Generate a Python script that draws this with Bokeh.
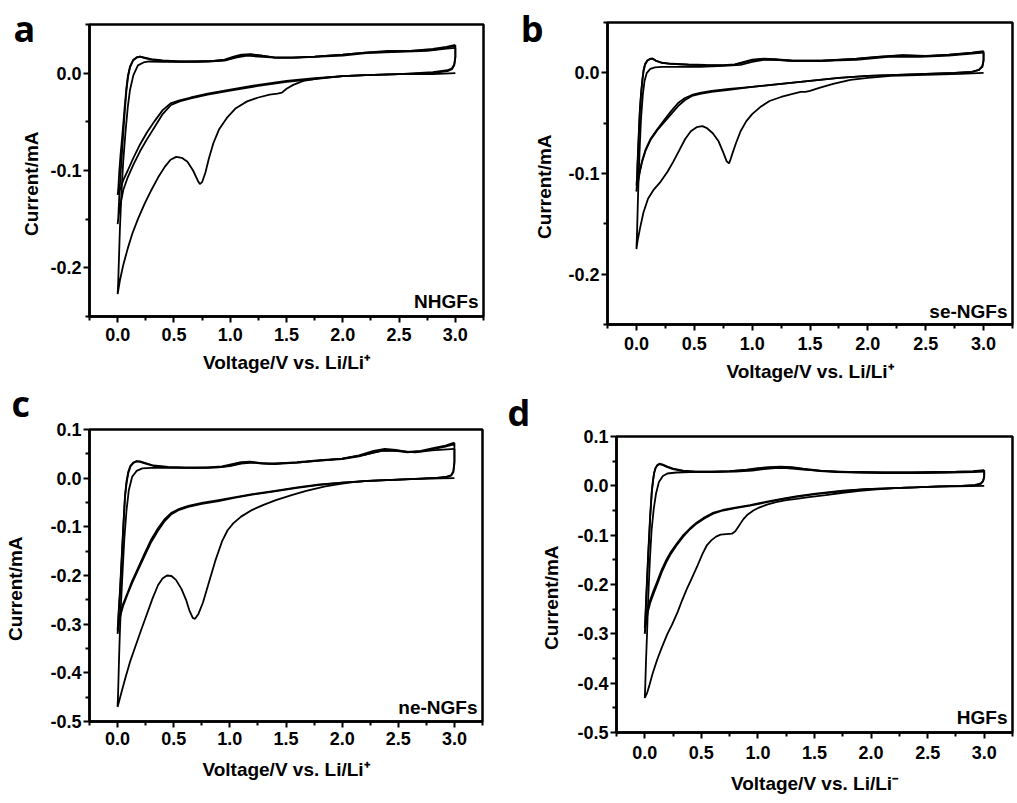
from bokeh.plotting import figure
from bokeh.layouts import column, row
from bokeh.models import Range1d, FixedTicker, NumeralTickFormatter, Label
from bokeh.embed import file_html
from bokeh.resources import INLINE

# ---------------- data (Voltage / V, Current / mA) ----------------
X_MAJOR = [0.0, 0.5, 1.0, 1.5, 2.0, 2.5, 3.0]
X_MINOR = [-0.25, 0.25, 0.75, 1.25, 1.75, 2.25, 2.75, 3.25]

# Panel a : NHGFs
A1_CV = [3.00, 2.80, 2.50, 2.20, 2.00, 1.80, 1.65, 1.56, 1.50, 1.46, 1.42, 1.35, 1.25, 1.15, 1.05, 0.97, 0.90, 0.85, 0.81, 0.78, 0.75, 0.73, 0.71, 0.67, 0.62, 0.57, 0.52, 0.47, 0.42, 0.36, 0.30, 0.24, 0.18, 0.13, 0.09, 0.05, 0.02, 0.00]
A1_CI = [0.000, -0.001, -0.001, -0.002, -0.003, -0.005, -0.008, -0.012, -0.016, -0.020, -0.021, -0.022, -0.025, -0.029, -0.036, -0.046, -0.058, -0.072, -0.088, -0.102, -0.112, -0.114, -0.110, -0.100, -0.091, -0.087, -0.086, -0.089, -0.096, -0.107, -0.120, -0.134, -0.150, -0.165, -0.180, -0.197, -0.213, -0.227]
A1_AV = [0.005, 0.02, 0.035, 0.05, 0.07, 0.09, 0.11, 0.14, 0.18, 0.23, 0.28, 0.40, 0.60, 0.80, 0.95, 1.05, 1.15, 1.25, 1.40, 1.60, 1.80, 2.00, 2.25, 2.50, 2.75, 2.90, 3.00]
A1_AI = [-0.215, -0.160, -0.120, -0.090, -0.060, -0.035, -0.017, -0.002, 0.008, 0.011, 0.012, 0.0115, 0.0115, 0.012, 0.013, 0.016, 0.018, 0.017, 0.016, 0.016, 0.017, 0.018, 0.021, 0.022, 0.023, 0.025, 0.026]
A2_CV = [3.00, 3.00, 2.99, 2.97, 2.93, 2.80, 2.50, 2.20, 2.00, 1.75, 1.50, 1.25, 1.00, 0.80, 0.65, 0.55, 0.47, 0.40, 0.33, 0.26, 0.20, 0.14, 0.09, 0.05, 0.03, 0.01, 0.00]
A2_CI = [0.026, 0.016, 0.008, 0.004, 0.002, 0.000, -0.001, -0.002, -0.003, -0.006, -0.009, -0.013, -0.018, -0.022, -0.026, -0.029, -0.033, -0.042, -0.055, -0.068, -0.080, -0.094, -0.107, -0.120, -0.132, -0.145, -0.155]
A3_CI = [0.029, 0.017, 0.009, 0.005, 0.003, 0.001, -0.001, -0.002, -0.003, -0.005, -0.008, -0.012, -0.017, -0.021, -0.025, -0.028, -0.031, -0.038, -0.049, -0.061, -0.073, -0.087, -0.100, -0.110, -0.117, -0.122, -0.125]
A2_AV = [0.005, 0.015, 0.025, 0.035, 0.048, 0.063, 0.078, 0.092, 0.11, 0.137, 0.17, 0.20, 0.24, 0.30, 0.40, 0.55, 0.70, 0.85, 0.95, 1.03, 1.10, 1.18, 1.28, 1.40, 1.55, 1.75, 2.00, 2.20, 2.40, 2.60, 2.80, 2.92, 3.00]
A2_AI = [-0.150, -0.125, -0.105, -0.088, -0.065, -0.040, -0.018, -0.004, 0.006, 0.013, 0.016, 0.017, 0.016, 0.0145, 0.013, 0.012, 0.012, 0.0125, 0.014, 0.017, 0.019, 0.0195, 0.018, 0.016, 0.016, 0.017, 0.019, 0.021, 0.023, 0.023, 0.025, 0.027, 0.029]
A3_AI = [-0.120, -0.100, -0.085, -0.072, -0.055, -0.034, -0.015, -0.002, 0.007, 0.0135, 0.0165, 0.017, 0.0155, 0.014, 0.0125, 0.012, 0.012, 0.0125, 0.0135, 0.016, 0.018, 0.019, 0.018, 0.016, 0.016, 0.017, 0.019, 0.021, 0.022, 0.023, 0.024, 0.026, 0.028]

# Panel b : se-NGFs
B1_CV = [3.00, 2.80, 2.50, 2.20, 2.00, 1.85, 1.70, 1.58, 1.50, 1.46, 1.42, 1.35, 1.25, 1.15, 1.07, 1.00, 0.95, 0.90, 0.86, 0.83, 0.81, 0.80, 0.78, 0.75, 0.71, 0.66, 0.61, 0.57, 0.52, 0.47, 0.42, 0.37, 0.32, 0.27, 0.21, 0.15, 0.10, 0.06, 0.03, 0.01, 0.00]
B1_CI = [0.000, -0.001, -0.002, -0.003, -0.005, -0.007, -0.011, -0.015, -0.018, -0.019, -0.019, -0.021, -0.024, -0.028, -0.034, -0.041, -0.048, -0.058, -0.070, -0.080, -0.087, -0.090, -0.088, -0.079, -0.068, -0.060, -0.055, -0.053, -0.054, -0.058, -0.066, -0.077, -0.088, -0.098, -0.108, -0.116, -0.125, -0.139, -0.155, -0.167, -0.175]
B1_AV = [0.005, 0.012, 0.02, 0.03, 0.04, 0.055, 0.07, 0.09, 0.12, 0.16, 0.22, 0.35, 0.55, 0.75, 0.90, 1.00, 1.10, 1.20, 1.35, 1.60, 1.90, 2.20, 2.45, 2.70, 2.90, 3.00]
B1_AI = [-0.160, -0.130, -0.100, -0.070, -0.045, -0.022, -0.008, 0.000, 0.004, 0.0055, 0.006, 0.006, 0.006, 0.007, 0.008, 0.011, 0.013, 0.013, 0.012, 0.012, 0.013, 0.016, 0.016, 0.017, 0.019, 0.020]
B2_CV = [3.00, 3.00, 2.99, 2.96, 2.90, 2.75, 2.50, 2.25, 2.00, 1.75, 1.50, 1.25, 1.00, 0.80, 0.65, 0.55, 0.48, 0.42, 0.36, 0.30, 0.24, 0.18, 0.12, 0.08, 0.05, 0.03, 0.015, 0.00]
B2_CI = [0.020, 0.012, 0.006, 0.003, 0.001, 0.000, -0.001, -0.002, -0.003, -0.005, -0.008, -0.011, -0.014, -0.017, -0.019, -0.021, -0.023, -0.027, -0.033, -0.041, -0.049, -0.057, -0.067, -0.077, -0.088, -0.098, -0.108, -0.118]
B3_CI = [0.0215, 0.013, 0.007, 0.003, 0.001, 0.000, -0.001, -0.002, -0.003, -0.005, -0.008, -0.011, -0.014, -0.016, -0.018, -0.020, -0.022, -0.025, -0.030, -0.038, -0.047, -0.056, -0.066, -0.076, -0.087, -0.097, -0.105, -0.112]
B2_AV = [0.005, 0.009, 0.016, 0.023, 0.030, 0.040, 0.051, 0.062, 0.075, 0.095, 0.12, 0.14, 0.17, 0.22, 0.30, 0.45, 0.60, 0.75, 0.85, 0.93, 1.00, 1.10, 1.20, 1.35, 1.60, 1.90, 2.10, 2.30, 2.50, 2.70, 2.90, 3.00]
B2_AI = [-0.110, -0.095, -0.075, -0.055, -0.038, -0.022, -0.008, 0.002, 0.008, 0.012, 0.014, 0.0142, 0.012, 0.010, 0.009, 0.0083, 0.0078, 0.0076, 0.0085, 0.011, 0.013, 0.014, 0.0135, 0.012, 0.012, 0.014, 0.016, 0.0175, 0.0168, 0.018, 0.020, 0.0215]
B3_AI = [-0.105, -0.090, -0.072, -0.053, -0.036, -0.020, -0.007, 0.003, 0.009, 0.0125, 0.0138, 0.014, 0.0118, 0.0098, 0.0088, 0.008, 0.0076, 0.0075, 0.0082, 0.0105, 0.0125, 0.0135, 0.013, 0.0118, 0.0118, 0.0138, 0.0158, 0.0172, 0.0165, 0.0178, 0.0198, 0.021]

# Panel c : ne-NGFs
C1_CV = [3.00, 2.75, 2.50, 2.25, 2.10, 2.00, 1.85, 1.68, 1.55, 1.41, 1.30, 1.20, 1.10, 1.03, 0.98, 0.93, 0.87, 0.81, 0.76, 0.72, 0.69, 0.67, 0.64, 0.61, 0.57, 0.52, 0.48, 0.44, 0.40, 0.36, 0.31, 0.26, 0.21, 0.16, 0.11, 0.07, 0.035, 0.00]
C1_CI = [0.000, -0.001, -0.003, -0.005, -0.008, -0.011, -0.017, -0.026, -0.035, -0.045, -0.055, -0.065, -0.079, -0.093, -0.107, -0.130, -0.170, -0.217, -0.256, -0.279, -0.289, -0.287, -0.272, -0.250, -0.228, -0.209, -0.201, -0.200, -0.206, -0.220, -0.248, -0.280, -0.312, -0.345, -0.378, -0.410, -0.440, -0.470]
C1_AV = [0.005, 0.012, 0.02, 0.03, 0.045, 0.06, 0.08, 0.10, 0.13, 0.17, 0.22, 0.30, 0.50, 0.70, 0.90, 1.00, 1.10, 1.20, 1.35, 1.60, 1.80, 2.00, 2.20, 2.35, 2.50, 2.65, 2.80, 3.00]
C1_AI = [-0.440, -0.380, -0.320, -0.260, -0.190, -0.125, -0.065, -0.025, 0.003, 0.015, 0.020, 0.021, 0.021, 0.021, 0.022, 0.025, 0.030, 0.032, 0.030, 0.032, 0.036, 0.040, 0.048, 0.056, 0.056, 0.053, 0.057, 0.060]
C2_CV = [3.00, 3.00, 2.99, 2.97, 2.93, 2.85, 2.60, 2.40, 2.20, 2.00, 1.80, 1.60, 1.40, 1.20, 1.05, 0.90, 0.75, 0.63, 0.55, 0.48, 0.42, 0.36, 0.30, 0.24, 0.18, 0.13, 0.09, 0.05, 0.03, 0.015, 0.00]
C2_CI = [0.060, 0.030, 0.012, 0.005, 0.002, 0.000, -0.002, -0.004, -0.006, -0.009, -0.014, -0.020, -0.027, -0.034, -0.040, -0.047, -0.053, -0.059, -0.065, -0.074, -0.088, -0.108, -0.131, -0.160, -0.190, -0.215, -0.238, -0.262, -0.278, -0.295, -0.320]
C3_CI = [0.073, 0.035, 0.014, 0.006, 0.003, 0.001, -0.002, -0.004, -0.006, -0.009, -0.013, -0.019, -0.026, -0.033, -0.039, -0.045, -0.051, -0.057, -0.063, -0.071, -0.084, -0.103, -0.126, -0.155, -0.186, -0.211, -0.235, -0.258, -0.274, -0.290, -0.312]
C2_AV = [0.005, 0.012, 0.021, 0.036, 0.051, 0.066, 0.080, 0.095, 0.115, 0.14, 0.17, 0.20, 0.25, 0.32, 0.45, 0.60, 0.80, 0.93, 1.02, 1.10, 1.18, 1.28, 1.40, 1.60, 1.80, 2.00, 2.15, 2.28, 2.38, 2.48, 2.58, 2.70, 2.82, 2.92, 3.00]
C2_AI = [-0.300, -0.270, -0.240, -0.172, -0.103, -0.040, -0.010, 0.010, 0.024, 0.031, 0.035, 0.0345, 0.031, 0.026, 0.023, 0.022, 0.022, 0.024, 0.029, 0.033, 0.034, 0.031, 0.030, 0.033, 0.037, 0.040, 0.047, 0.056, 0.060, 0.058, 0.054, 0.056, 0.062, 0.067, 0.073]
C3_AI = [-0.295, -0.265, -0.232, -0.165, -0.098, -0.036, -0.006, 0.013, 0.026, 0.032, 0.0345, 0.0335, 0.030, 0.025, 0.022, 0.021, 0.021, 0.023, 0.027, 0.031, 0.033, 0.030, 0.029, 0.032, 0.036, 0.039, 0.045, 0.053, 0.057, 0.056, 0.053, 0.055, 0.060, 0.065, 0.070]

# Panel d : HGFs
D1_CV = [3.00, 2.75, 2.50, 2.25, 2.05, 1.90, 1.75, 1.60, 1.45, 1.34, 1.25, 1.16, 1.08, 1.01, 0.96, 0.91, 0.87, 0.83, 0.80, 0.77, 0.72, 0.67, 0.63, 0.59, 0.55, 0.51, 0.46, 0.41, 0.37, 0.33, 0.29, 0.24, 0.20, 0.15, 0.11, 0.07, 0.04, 0.02, 0.00]
D1_CI = [0.000, -0.001, -0.002, -0.004, -0.007, -0.010, -0.014, -0.019, -0.023, -0.0265, -0.029, -0.033, -0.038, -0.044, -0.050, -0.058, -0.068, -0.082, -0.092, -0.097, -0.098, -0.099, -0.103, -0.110, -0.120, -0.138, -0.165, -0.190, -0.210, -0.232, -0.256, -0.282, -0.300, -0.328, -0.352, -0.380, -0.405, -0.420, -0.430]
D1_AV = [0.005, 0.01, 0.02, 0.03, 0.045, 0.06, 0.08, 0.10, 0.125, 0.16, 0.20, 0.28, 0.40, 0.60, 0.80, 0.95, 1.05, 1.15, 1.25, 1.40, 1.60, 1.80, 2.10, 2.40, 2.70, 2.90, 3.00]
D1_AI = [-0.400, -0.360, -0.300, -0.230, -0.150, -0.090, -0.045, -0.015, 0.008, 0.020, 0.025, 0.027, 0.028, 0.028, 0.029, 0.031, 0.034, 0.036, 0.036, 0.033, 0.030, 0.028, 0.026, 0.026, 0.027, 0.028, 0.029]
D2_CV = [3.00, 3.00, 2.99, 2.97, 2.92, 2.80, 2.60, 2.39, 2.20, 1.95, 1.75, 1.51, 1.35, 1.22, 1.08, 0.93, 0.80, 0.69, 0.60, 0.52, 0.45, 0.40, 0.34, 0.28, 0.23, 0.19, 0.15, 0.106, 0.075, 0.047, 0.028, 0.015, 0.005, 0.00]
D2_CI = [0.029, 0.018, 0.009, 0.004, 0.001, 0.000, -0.001, -0.003, -0.0045, -0.0065, -0.011, -0.0167, -0.022, -0.027, -0.033, -0.040, -0.045, -0.050, -0.057, -0.067, -0.078, -0.088, -0.103, -0.121, -0.138, -0.155, -0.175, -0.202, -0.220, -0.238, -0.255, -0.272, -0.290, -0.300]
D3_CI = [0.032, 0.020, 0.010, 0.005, 0.002, 0.000, -0.001, -0.003, -0.0045, -0.0065, -0.010, -0.016, -0.021, -0.026, -0.032, -0.039, -0.044, -0.049, -0.055, -0.065, -0.076, -0.086, -0.100, -0.118, -0.134, -0.150, -0.170, -0.196, -0.214, -0.232, -0.248, -0.262, -0.278, -0.288]
D2_AV = [0.004, 0.012, 0.022, 0.032, 0.040, 0.047, 0.055, 0.062, 0.072, 0.082, 0.095, 0.11, 0.13, 0.16, 0.20, 0.25, 0.34, 0.45, 0.60, 0.75, 0.90, 1.00, 1.10, 1.20, 1.30, 1.40, 1.55, 1.70, 1.90, 2.10, 2.35, 2.55, 2.75, 2.90, 3.00]
D2_AI = [-0.280, -0.236, -0.185, -0.135, -0.100, -0.067, -0.038, -0.013, 0.008, 0.025, 0.036, 0.042, 0.045, 0.043, 0.039, 0.035, 0.031, 0.029, 0.029, 0.030, 0.033, 0.036, 0.038, 0.039, 0.038, 0.035, 0.031, 0.029, 0.028, 0.027, 0.027, 0.028, 0.029, 0.030, 0.032]
D3_AI = [-0.270, -0.228, -0.178, -0.128, -0.094, -0.062, -0.034, -0.010, 0.010, 0.026, 0.036, 0.041, 0.044, 0.042, 0.038, 0.034, 0.030, 0.029, 0.029, 0.030, 0.032, 0.035, 0.037, 0.038, 0.037, 0.034, 0.030, 0.028, 0.027, 0.027, 0.027, 0.027, 0.028, 0.029, 0.031]

FONT = "Liberation Sans"
Y_LABEL = "Current/mA" + "\u00a0" * 5


def cycle(cv, ci, av, ai, tag):
    if len(cv) != len(ci) or len(av) != len(ai):
        raise ValueError("length mismatch in " + tag)
    return list(cv) + list(av), list(ci) + list(ai)


def panel(cycles, name, name_dy, letter, letter_xy, letter_side, yr, ymaj, ymin,
          width, height, borders, ylab_standoff, xtick_standoff, xlab_standoff):
    left, right, top, bottom = borders
    p = figure(width=width, height=height,
               x_range=Range1d(-0.25, 3.25), y_range=Range1d(*yr),
               output_backend="svg", toolbar_location=None,
               min_border_left=left, min_border_right=right,
               min_border_top=top, min_border_bottom=bottom)
    p.background_fill_color = "white"
    p.border_fill_color = "white"
    p.grid.visible = False
    p.outline_line_color = "black"
    p.outline_line_width = 2.5
    p.outline_line_alpha = 1.0

    for vx, iy in cycles:
        p.line(vx, iy, line_color="black", line_width=1.8)

    p.xaxis.ticker = FixedTicker(ticks=X_MAJOR, minor_ticks=X_MINOR)
    p.yaxis.ticker = FixedTicker(ticks=ymaj, minor_ticks=ymin)
    for ax in (p.xaxis[0], p.yaxis[0]):
        ax.formatter = NumeralTickFormatter(format="0.0")
        ax.axis_line_width = 2.5
        ax.axis_line_color = "black"
        ax.major_tick_line_width = 2
        ax.minor_tick_line_width = 2
        ax.major_tick_out = 6
        ax.major_tick_in = 0
        ax.minor_tick_out = 4
        ax.minor_tick_in = 0
        ax.major_label_text_font = FONT
        ax.major_label_text_font_style = "bold"
        ax.major_label_text_font_size = "18px"
        ax.major_label_text_color = "black"
        ax.axis_label_text_font = FONT
        ax.axis_label_text_font_style = "bold"
        ax.axis_label_text_font_size = "19px"
        ax.axis_label_text_color = "black"
    p.xaxis.axis_label = "Voltage/V vs. Li/Li" + ("\u207b" if letter == "d" else "\u207a")
    p.yaxis.axis_label = Y_LABEL
    p.yaxis.major_label_standoff = 2
    p.yaxis.axis_label_standoff = ylab_standoff
    p.xaxis.major_label_standoff = xtick_standoff
    p.xaxis.axis_label_standoff = xlab_standoff

    p.add_layout(Label(x=3.25, y=yr[0], x_offset=-5, y_offset=name_dy, text=name,
                       text_align="right", text_baseline="alphabetic",
                       text_font=FONT, text_font_style="bold",
                       text_font_size="19px", text_color="black"))
    p.add_layout(Label(x=letter_xy[0], y=letter_xy[1], text=letter,
                       text_align="left", text_baseline="alphabetic",
                       text_font="Open Sans", text_font_style="bold",
                       text_font_size="36px", text_color="black"), letter_side)
    return p


pa = panel([cycle(A1_CV, A1_CI, A1_AV, A1_AI, "a1"),
            cycle(A2_CV, A2_CI, A2_AV, A2_AI, "a2"),
            cycle(A2_CV, A3_CI, A2_AV, A3_AI, "a3")],
           "NHGFs", 15, "a", (-0.925, 0.0459), "right", (-0.25, 0.05),
           [-0.2, -0.1, 0.0], [-0.25, -0.15, -0.05, 0.05],
           508, 378, (89, 25, 24, 62), 5, 5, 8)
pc = panel([cycle(C1_CV, C1_CI, C1_AV, C1_AI, "c1"),
            cycle(C2_CV, C2_CI, C2_AV, C2_AI, "c2"),
            cycle(C2_CV, C3_CI, C2_AV, C3_AI, "c3")],
           "ne-NGFs", 14, "c", (-0.945, 0.1534), "right", (-0.5, 0.1),
           [-0.5, -0.4, -0.3, -0.2, -0.1, 0.0, 0.1],
           [-0.45, -0.35, -0.25, -0.15, -0.05, 0.05],
           508, 425, (89, 26, 51, 82), 21, 4, 11)
pb = panel([cycle(B1_CV, B1_CI, B1_AV, B1_AI, "b1"),
            cycle(B2_CV, B2_CI, B2_AV, B2_AI, "b2"),
            cycle(B2_CV, B3_CI, B2_AV, B3_AI, "b3")],
           "se-NGFs", 13, "b", (-1.0, 0.044), "left", (-0.25, 0.05),
           [-0.2, -0.1, 0.0], [-0.25, -0.15, -0.05, 0.05],
           508, 387, (98, 4, 22, 63), 10, 6, 8)
pd_ = panel([cycle(D1_CV, D1_CI, D1_AV, D1_AI, "d1"),
             cycle(D2_CV, D2_CI, D2_AV, D2_AI, "d2"),
             cycle(D2_CV, D3_CI, D2_AV, D3_AI, "d3")],
            "HGFs", 15, "d", (-1.213, 0.1487), "left", (-0.5, 0.1),
            [-0.5, -0.4, -0.3, -0.2, -0.1, 0.0, 0.1],
            [-0.45, -0.35, -0.25, -0.15, -0.05, 0.05],
            508, 416, (108, 4, 49, 71), 12, 7, 11)

layout = row(column(row(pa), row(pc)), column(row(pb), row(pd_)))
open("out.html", "w").write(file_html(layout, INLINE))
